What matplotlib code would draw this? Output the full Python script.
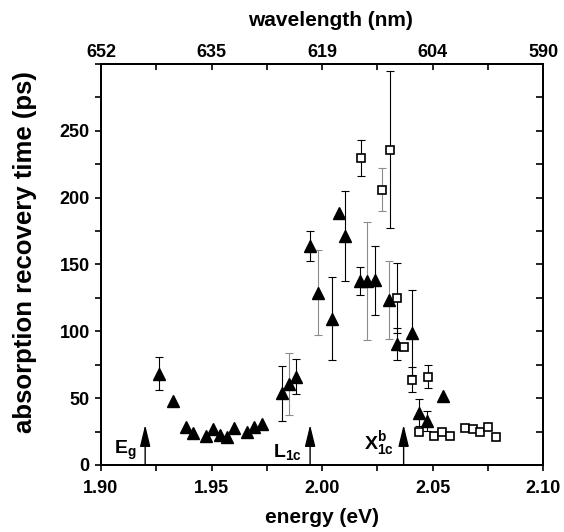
import numpy as np
import matplotlib
matplotlib.use('Agg')
import matplotlib.pyplot as plt
from matplotlib.ticker import MultipleLocator

plt.rcParams['font.family'] = ['Liberation Sans', 'DejaVu Sans']
plt.rcParams['font.weight'] = 'bold'
plt.rcParams['mathtext.fontset'] = 'custom'
plt.rcParams['mathtext.bf'] = 'Liberation Sans:bold'
plt.rcParams['mathtext.rm'] = 'Liberation Sans:bold'

# filled triangles: energy (eV), recovery time (ps), error (ps, 0 = none)
tri_e = [1.9264, 1.9328, 1.9385, 1.9418, 1.9475, 1.9509, 1.9539, 1.9569, 1.9604,
         1.9660, 1.9694, 1.9729, 1.9818, 1.9850, 1.9883, 1.9946, 1.9981, 2.0045,
         2.0075, 2.0106, 2.0170, 2.0205, 2.0238, 2.0303, 2.0339, 2.0407, 2.0438,
         2.0475, 2.0547]
tri_t = [68.4, 47.8, 28.6, 23.6, 21.9, 26.6, 22.4, 20.7, 27.4,
         24.9, 28.1, 30.4, 53.5, 60.5, 65.9, 163.7, 128.9, 109.5,
         188.6, 171.2, 137.6, 137.6, 138.0, 123.2, 90.8, 99.0, 39.0,
         33.1, 51.7]
tri_err = [12, 0, 0, 0, 0, 0, 0, 0, 0,
           0, 0, 0, 20.5, 23, 13, 11, 32, 31,
           0, 33.7, 10.7, 44, 26, 29, 12, 32, 10,
           7.5, 0]
tri_grey = [0, 0, 0, 0, 0, 0, 0, 0, 0,
            0, 0, 0, 0, 1, 0, 0, 1, 0,
            0, 0, 0, 1, 0, 1, 0, 0, 0,
            0, 0]

# open squares
sq_e = [2.0174, 2.0272, 2.0306, 2.0339, 2.0370, 2.0407, 2.0479, 2.0438, 2.0506,
        2.0543, 2.0577, 2.0648, 2.0683, 2.0716, 2.0751, 2.0789]
sq_t = [229.6, 205.8, 235.6, 124.9, 88.3, 63.9, 65.9, 24.4, 21.9,
        24.4, 21.9, 27.9, 26.6, 24.9, 28.1, 20.7]
sq_err = [13.8, 16, 58.7, 26, 0, 9, 8.5, 0, 0,
          0, 0, 0, 0, 0, 0, 0]
sq_grey = [0, 1, 0, 0, 0, 0, 0, 0, 0, 0, 0, 0, 0, 0, 0, 0]

# band markers
arrow_e = [1.920, 1.9946, 2.0369]
arrow_labels = [r'$\mathbf{E_g}$', r'$\mathbf{L_{1c}}$', r'$\mathbf{X^b_{1c}}$']
label_e = [1.916, 1.9907, 2.0326]
label_t = [11, 9.7, 16]

y_ticks = [0, 50, 100, 150, 200, 250]
wl_ticks = [1.90, 1.95, 2.00, 2.05, 2.10]
wl_labels = ['652', '635', '619', '604', '590']

fig = plt.figure(figsize=(5.64, 5.32), dpi=100)
ax = fig.add_axes([0.179, 0.126, 0.784, 0.754])

def draw_err(xs, ys, es, greys):
    for x, y, e, g in zip(xs, ys, es, greys):
        if e > 0:
            ax.errorbar(x, y, yerr=e, fmt='none', ecolor='0.55' if g else 'black',
                        elinewidth=0.8, capsize=3, capthick=0.8, zorder=2)

draw_err(tri_e, tri_t, tri_err, tri_grey)
draw_err(sq_e, sq_t, sq_err, sq_grey)

ax.plot(tri_e, tri_t, '^', color='black', markersize=8.5, zorder=3, linestyle='none')
ax.plot(sq_e, sq_t, 's', markerfacecolor='white', markeredgecolor='black',
        markersize=6.2, markeredgewidth=1.2, zorder=4, linestyle='none')

for xa, lab, xl, yl in zip(arrow_e, arrow_labels, label_e, label_t):
    ax.annotate('', xy=(xa, 30), xytext=(xa, 0),
                arrowprops=dict(arrowstyle='-|>,head_length=0.95,head_width=0.23',
                                color='black', lw=1.0, mutation_scale=14,
                                shrinkA=0, shrinkB=0))
    ax.text(xl, yl, lab, ha='right', va='center', fontsize=14)

ax.set_xlim(1.90, 2.10)
ax.set_ylim(0, 300)
ax.xaxis.set_major_locator(MultipleLocator(0.05))
ax.xaxis.set_minor_locator(MultipleLocator(0.025))
ax.set_yticks(y_ticks)
ax.yaxis.set_minor_locator(MultipleLocator(25))
ax.xaxis.set_major_formatter(plt.FuncFormatter(lambda v, p: f'{v:.2f}'))
ax.tick_params(axis='both', which='both', direction='out', labelsize=13,
               width=1.2, length=4)
ax.tick_params(axis='x', pad=7)
ax.tick_params(axis='y', pad=4)
ax.set_xlabel('energy (eV)', fontsize=15, fontweight='bold', labelpad=8)
ax.set_ylabel('absorption recovery time (ps)', fontsize=18.5, fontweight='bold',
              labelpad=8)
ax.yaxis.set_label_coords(-0.145, 0.53)

# right ticks inward
ax2 = ax.twinx()
ax2.set_ylim(0, 300)
ax2.yaxis.set_major_locator(MultipleLocator(50))
ax2.yaxis.set_minor_locator(MultipleLocator(25))
ax2.tick_params(axis='y', which='both', direction='in', length=5, width=1.2,
                labelright=False)

# top wavelength axis, ticks inward
ax3 = ax.twiny()
ax3.set_xlim(1.90, 2.10)
ax3.set_xticks(wl_ticks)
ax3.set_xticklabels(wl_labels)
ax3.xaxis.set_minor_locator(MultipleLocator(0.025))
ax3.tick_params(axis='x', which='both', direction='in', labelsize=13, width=1.2,
                length=4, pad=2)
ax3.set_xlabel('wavelength (nm)', fontsize=15, fontweight='bold', labelpad=6)
ax3.xaxis.set_label_coords(0.52, 1.095)

for a in (ax, ax2, ax3):
    for s in a.spines.values():
        s.set_linewidth(1.3)

fig.savefig('out.png', dpi=100)
